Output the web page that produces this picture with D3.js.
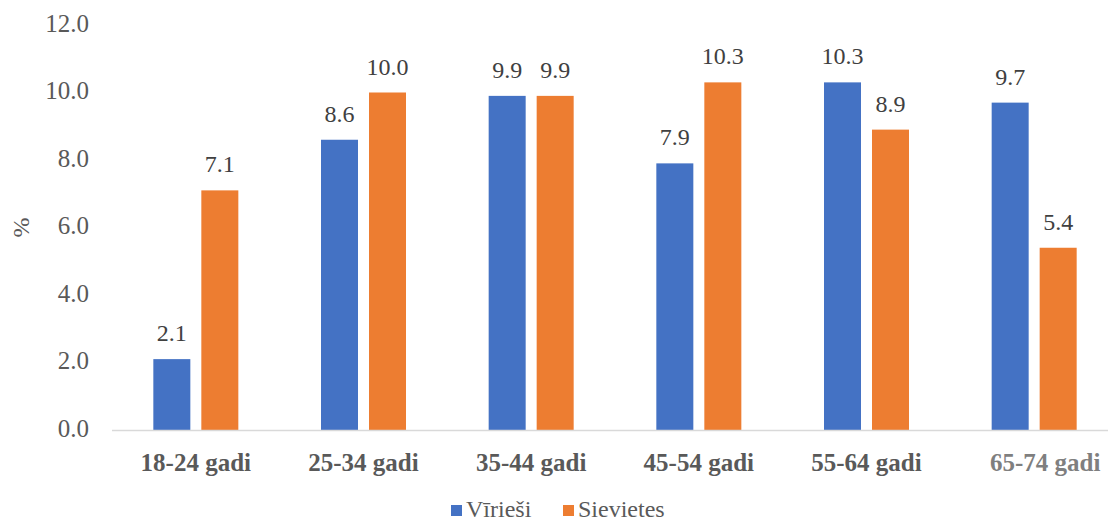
<!DOCTYPE html>
<html>
<head>
<meta charset="utf-8">
<script src="https://cdn.jsdelivr.net/npm/d3@7"></script>
<style>
  html, body { margin: 0; padding: 0; background: #fff; }
  svg { display: block; }
</style>
</head>
<body>
<svg id="chart" width="1108" height="523"></svg>
<script>
// Age groups and share (%) by sex
const categories = ["18-24 gadi", "25-34 gadi", "35-44 gadi", "45-54 gadi", "55-64 gadi", "65-74 gadi"];
const seriesNames = ["Vīrieši", "Sievietes"];
const men = [2.1, 8.6, 9.9, 7.9, 10.3, 9.7];
const women = [7.1, 10.0, 9.9, 10.3, 8.9, 5.4];
const yTicks = [0, 2, 4, 6, 8, 10, 12];
const colors = ["#4472c4", "#ed7d31"];

const FONT = "Liberation Serif";
const W = 1108, H = 523;

const svg = d3.select("#chart").attr("font-family", FONT);

const margin = { left: 112, right: -10, top: 25, bottom: 93 };

const x = d3.scaleBand().domain(categories)
  .range([margin.left, W - margin.right]).paddingInner(0).paddingOuter(0);
const y = d3.scaleLinear().domain([0, 12]).range([H - margin.bottom, margin.top]);

// two bars per group, centred in the band
const barW = 37, gap = 11;
const mid = x.bandwidth() / 2;
const xs = d3.scaleOrdinal().domain(seriesNames)
  .range([mid - gap / 2 - barW, mid + gap / 2]);

// y axis tick labels (no axis line, no gridlines)
const yAxis = d3.axisLeft(y).tickValues(yTicks).tickFormat(d3.format(".1f")).tickSize(0).tickPadding(0);
const gy = svg.append("g").attr("transform", `translate(89,-2)`).call(yAxis);
gy.attr("font-family", FONT).attr("font-size", 25);
gy.select(".domain").remove();
gy.selectAll("text").attr("fill", "#595959");

// y axis title
svg.append("text").attr("transform", `translate(21,${y(6)}) rotate(-90)`)
  .attr("text-anchor", "middle").attr("dy", "0.35em")
  .attr("font-size", 24).attr("fill", "#595959").text("%");

// bars
const rows = categories.map((c, i) => ({ cat: c, vals: [men[i], women[i]] }));
const groups = svg.append("g").selectAll("g").data(rows).join("g")
  .attr("transform", d => `translate(${x(d.cat)},0)`);

groups.selectAll("rect").data(d => d.vals.map((v, k) => ({ v, s: seriesNames[k], k })))
  .join("rect")
  .attr("x", d => xs(d.s)).attr("width", barW)
  .attr("y", d => y(d.v)).attr("height", d => y(0) - y(d.v))
  .attr("fill", d => colors[d.k]);

// value labels
groups.selectAll("text.val").data(d => d.vals.map((v, k) => ({ v, s: seriesNames[k] })))
  .join("text").attr("class", "val")
  .attr("x", d => xs(d.s) + barW / 2)
  .attr("y", d => y(d.v) - 18)
  .attr("text-anchor", "middle").attr("font-size", 24).attr("fill", "#404040")
  .text(d => d3.format(".1f")(d.v));

// baseline
svg.append("line").attr("x1", margin.left).attr("x2", W)
  .attr("y1", y(0) + 0.5).attr("y2", y(0) + 0.5)
  .attr("stroke", "#d9d9d9").attr("stroke-width", 1.5);

// category labels
const xAxis = d3.axisBottom(x).tickSize(0).tickPadding(0);
const gx = svg.append("g").attr("transform", `translate(0,${y(0) + 41})`).call(xAxis);
gx.attr("font-family", FONT).attr("font-size", 25).attr("font-weight", "bold");
gx.select(".domain").remove();
gx.selectAll("text").attr("dy", null)
  .attr("dx", (d, i) => i === categories.length - 1 ? 11 : 0)
  .attr("fill", (d, i) => i === categories.length - 1 ? "#7f7f7f" : "#595959");

// legend
const legend = svg.append("g").attr("transform", "translate(451,517)")
  .attr("font-size", 24);
const legendX = [0, 112];
seriesNames.forEach((n, k) => {
  const g = legend.append("g").attr("transform", `translate(${legendX[k]},0)`);
  g.append("rect").attr("x", 0).attr("y", -12).attr("width", 11).attr("height", 11).attr("fill", colors[k]);
  g.append("text").attr("x", 15).attr("y", 0).attr("fill", "#595959").text(n);
});
</script>
</body>
</html>
